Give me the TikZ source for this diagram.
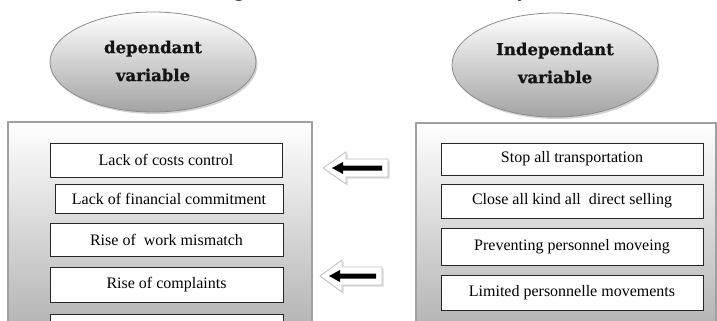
\documentclass[tikz,border=0pt]{standalone}
\usepackage{fontspec}
\setmainfont{Liberation Serif}
\newfontfamily\ellfont[FakeBold=0.8]{DejaVu Serif Bold}
\usetikzlibrary{shadows}
\definecolor{panelline}{HTML}{A0A0A0}
\definecolor{ellline}{HTML}{8C8C8C}
\tikzset{
  x=1pt,y=-1pt,
  panel/.style={draw=panelline,line width=1.3pt,top color=white,bottom color=black!32},
  item/.style={draw=black!85,line width=0.9pt,fill=white,inner sep=0pt,
    font=\fontsize{16}{18}\selectfont,text=black},
  varell/.style={draw=ellline,line width=0.8pt,top color=white,bottom color=black!36,
    drop shadow={shadow xshift=1.5pt,shadow yshift=-2pt,opacity=0.35}},
  elltext/.style={align=center,font=\ellfont\fontsize{16.5}{28}\selectfont,text=black!92},
  titlefrag/.style={anchor=base,inner sep=0pt,font=\fontsize{22}{22}\selectfont},
  blockarrow/.style={fill=white,draw=black!25,line width=0.8pt,
    drop shadow={shadow xshift=1.5pt,shadow yshift=-1.5pt,opacity=0.3}},
  innerarrow/.style={fill=black}
}
\begin{document}
\begin{tikzpicture}
\useasboundingbox (0,0) rectangle (717,321);
\begin{scope}
\clip (0,0) rectangle (717,321);
% title fragments cut by the top edge
\node[titlefrag] (tg) at (239,-3) {g};
\node[titlefrag] (ty) at (523,-3) {y};
% panels
\path[panel] (8,122) rectangle (312,345);
\path[panel] (416,123) rectangle (716,345);
% left items
\node[item,minimum width=232pt,minimum height=34pt] (l1) at (166,160) {Lack of costs control};
\node[item,minimum width=228pt,minimum height=29pt] (l2) at (169,198.5) {Lack of financial commitment};
\node[item,minimum width=233pt,minimum height=33pt] (l3) at (166.5,239.5) {Rise of\ \ work mismatch};
\node[item,minimum width=233pt,minimum height=35pt] (l4) at (166.5,284.5) {Rise of complaints};
\node[item,minimum width=233pt,minimum height=30pt] (l5) at (166.5,329) {};
% right items
\node[item,minimum width=262pt,minimum height=32pt] (r1) at (572,159) {Stop all transportation};
\node[item,minimum width=262pt,minimum height=34pt] (r2) at (572,201) {Close all kind all\ \ direct selling};
\node[item,minimum width=262pt,minimum height=37pt] (r3) at (572,246.5) {Preventing personnel moveing};
\node[item,minimum width=262pt,minimum height=35pt] (r4) at (572,292.5) {Limited personnelle movements};
\end{scope}
% ellipses
\path[varell] (153,62) ellipse [x radius=103,y radius=50];
\node[elltext] (dep) at (153,61) {dependant\\variable};
\path[varell] (555,65) ellipse [x radius=103,y radius=52];
\node[elltext] (indep) at (555,63) {Independant\\variable};
% block arrows
\path[blockarrow] (388,159) -- (346,159) -- (346,152) -- (323,168) -- (346,184) -- (346,177) -- (388,177) -- cycle;
\path[innerarrow] (382,165.5) -- (343,165.5) -- (343,162) -- (332,168) -- (343,174) -- (343,170.5) -- (382,170.5) -- cycle;
\path[blockarrow] (382,267) -- (342,267) -- (342,260) -- (320,276) -- (342,292) -- (342,285) -- (382,285) -- cycle;
\path[innerarrow] (376,273.5) -- (340,273.5) -- (340,270) -- (329,276) -- (340,282) -- (340,278.5) -- (376,278.5) -- cycle;
\end{tikzpicture}
\end{document}
